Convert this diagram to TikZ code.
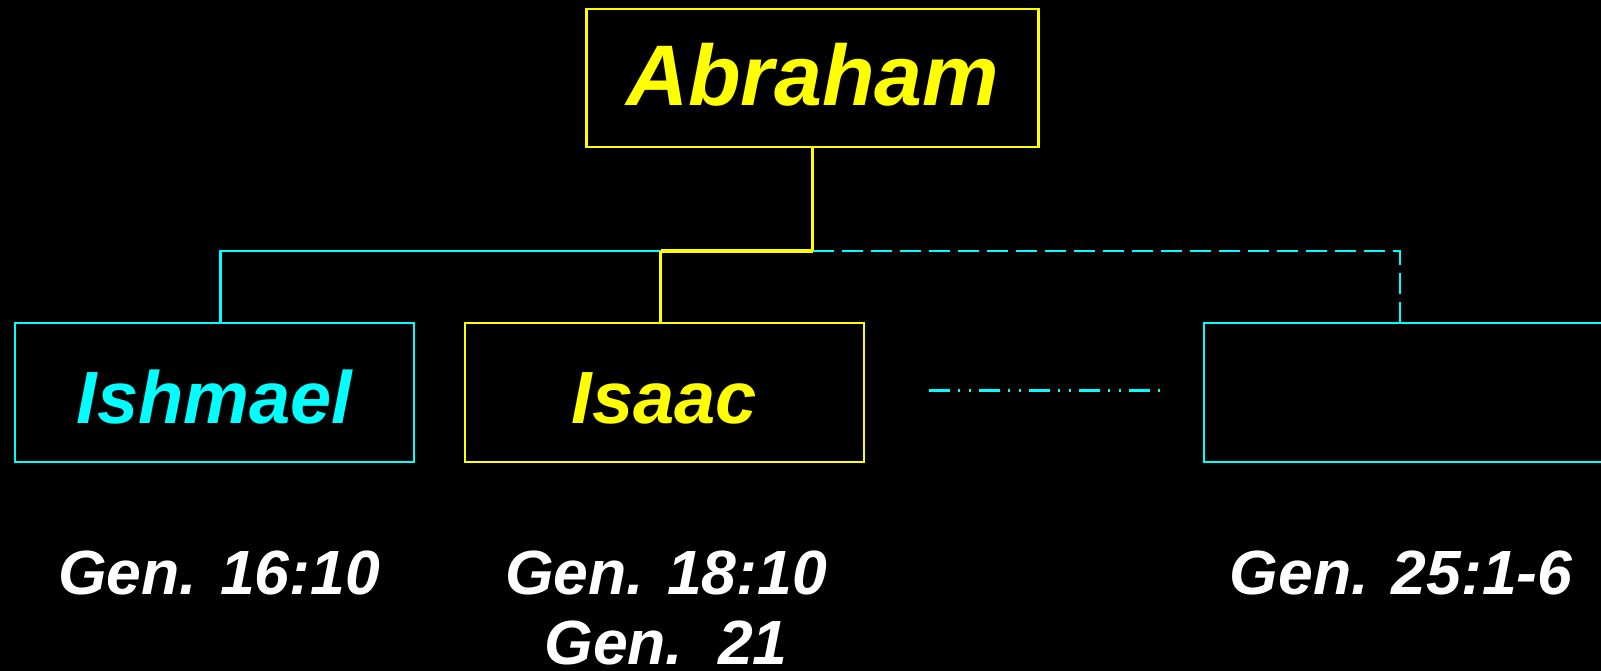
\documentclass[tikz,border=0pt]{standalone}
\usepackage{fontspec}
\setmainfont{Liberation Sans}

\definecolor{tyellow}{RGB}{255,255,0}
\definecolor{tcyan}{RGB}{0,255,255}

\begin{document}
\begin{tikzpicture}[x=1pt,y=-1pt]
    \fill[black] (0,0) rectangle (1601,671);
    \useasboundingbox (0,0) rectangle (1601,671);

    \begin{scope}[every node/.style={draw, line width=2.5pt, minimum width=399pt, minimum height=139pt, inner sep=0pt, font=\bfseries\itshape\fontsize{74}{78}\selectfont, text height=62pt, text depth=1pt}]
                        \node [tyellow, minimum width=452pt, minimum height=138pt, font=\bfseries\itshape\fontsize{86}{90}\selectfont, text height=70pt, text depth=14pt] (abr) at (812.5,78) {Abraham};
                        \node [tcyan] (ish) at (214.5,392.5) {Ishmael};
                        \node [tyellow] (isa) at (664.5,392.5) {Isaac};
                        \node [tcyan] (rest) at (1403.5,392.5) {};
                \end{scope}

                \begin{scope}[every node/.style={white, inner sep=0pt, anchor=base, font=\bfseries\itshape\fontsize{62.5}{72}\selectfont}]
                        \node (g1) at (219,594) {Gen. 16:10};
                        \node (g2) at (666,594) {Gen. 18:10};
                        \node (g3) at (666,664) {Gen.\ \ 21};
                        \node (g4) at (1401,594) {Gen. 25:1-6};
                \end{scope}

                \coordinate (bar) at (814,251);
                \coordinate (ishtop) at ([xshift=6pt]ish.north);
                \coordinate (isatop) at ([xshift=-4pt]isa.north);
                \coordinate (resttop) at ([xshift=-3.5pt]rest.north);
                \coordinate (dl) at (929,390);
                \coordinate (dr) at (1162,390);

                \begin{scope}[every path/.style={line width=2.5pt}]
                        \draw [tcyan] (ishtop) -- (ishtop |- bar) -- (isatop |- bar);
                        \draw [tcyan, dash pattern=on 21pt off 8pt] (abr.south |- bar) -- (resttop |- bar) -- (resttop);
                        \draw [tyellow] (abr.south) -- (abr.south |- bar);
                        \draw [tyellow, line width=4pt] (abr.south |- bar) -- (isatop |- bar);
                        \draw [tyellow] (isatop |- bar) -- (isatop);
                        \draw [tcyan, line width=3pt, dash pattern=on 21pt off 8pt on 2pt off 9pt on 2pt off 8pt] (dl) -- (dr);
               \end{scope}
\end{tikzpicture}
\end{document}
